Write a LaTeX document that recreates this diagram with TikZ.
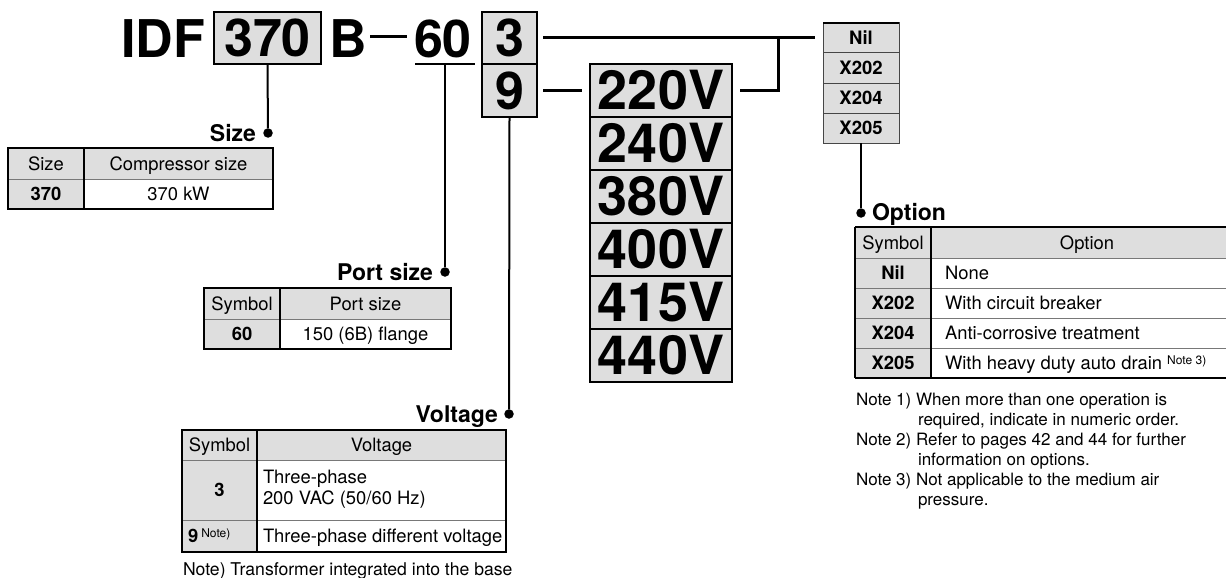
\documentclass[tikz,border=0pt]{standalone}
\usepackage{fontspec}
\setmainfont{TeX Gyre Heros}
\definecolor{bx}{RGB}{222,222,222}
\definecolor{ln}{RGB}{70,70,70}
\definecolor{thin}{RGB}{120,120,120}
\newcommand{\supnote}[1]{{\fontsize{12}{12}\selectfont\raisebox{5pt}{#1}}}
\begin{document}
\begin{tikzpicture}[x=1pt,y=-1pt,
 every node/.style={inner sep=0pt, outer sep=0pt},
 bigtxt/.style={font=\fontsize{52}{52}\selectfont\bfseries},
 codebox/.style={draw, line width=2pt, fill=bx, font=\fontsize{52}{52}\selectfont\bfseries},
 voltbox/.style={draw, line width=2.2pt, fill=bx, minimum width=142pt, minimum height=53pt, font=\fontsize{54}{54}\selectfont\bfseries},
 optbox/.style={draw=ln, line width=1pt, fill=bx, minimum width=76pt, minimum height=30pt, font=\fontsize{18.5}{18.5}\selectfont\bfseries},
 link/.style={line width=3pt},
 lead/.style={line width=2pt},
 dotmark/.style={circle, fill, minimum size=9.5pt},
 head/.style={font=\fontsize{23}{23}\selectfont\bfseries},
 tc/.style={font=\fontsize{18.4}{18.4}\selectfont, text height=13.2pt, text depth=0pt},
 tb/.style={font=\fontsize{18.4}{18.4}\selectfont\bfseries, text height=13.2pt, text depth=0pt},
 notetxt/.style={font=\fontsize{17}{20}\selectfont},
 outer/.style={line width=1.3pt, draw=black},
 topline/.style={line width=2.2pt},
 inner/.style={line width=0.8pt, draw=thin}
]
\useasboundingbox (0,0) rectangle (1226,578);

% ---------- model code ----------
\node[bigtxt, anchor=base west] (idf) at (121,58) {IDF};
\node[codebox, minimum width=107pt, minimum height=52pt] (b370) at (267.5,38) {370};
\node[bigtxt, anchor=base west] (bb) at (329,58) {B};
\coordinate (d1) at (370,37);
\coordinate (d2) at (407,37);
\draw[line width=3pt] (d1) -- (d2);
\node[bigtxt, anchor=base west] (s60) at (414,58) {60};
\coordinate (u1) at (415,64);
\coordinate (u2) at (475,64);
\coordinate (u60) at (445,64);
\draw[lead] (u1) -- (u2);
\node[codebox, minimum width=55pt, minimum height=52pt] (b3) at (509.5,38) {3};
\node[codebox, minimum width=55pt, minimum height=53pt] (b9) at (509.5,90.5) {9};

% voltage boxes
\node[voltbox] (v220) at (661,90.5) {220V};
\node[voltbox] (v240) at (661,143.5) {240V};
\node[voltbox] (v380) at (661,196.5) {380V};
\node[voltbox] (v400) at (661,249.5) {400V};
\node[voltbox] (v415) at (661,302.5) {415V};
\node[voltbox] (v440) at (661,355.5) {440V};

% option boxes
\node[optbox] (ox1) at (861,38) {Nil};
\node[optbox] (ox2) at (861,68) {X202};
\node[optbox] (ox3) at (861,98) {X204};
\node[optbox] (ox4) at (861,128) {X205};
\draw[topline] (ox1.north west) -- (ox1.north east);

% links
\coordinate (j1) at (778,38);
\draw[link] ([xshift=6pt]b3.east) -- ([xshift=-8pt]ox1.west);
\draw[link] ([xshift=6pt]b9.east) -- ([xshift=-8pt]v220.west);
\draw[link] ([xshift=8pt]v220.east) -| (j1);

% ---------- Size ----------
\node[dotmark] (dsize) at (268,133) {};
\draw[lead] (b370.south) -- (dsize);
\node[head, anchor=base east] (hsize) at (256,141) {Size};
\fill[bx] (8,148) rectangle (273,179);
\fill[bx] (8,179) rectangle (84,209);
\draw[inner] (8,179) -- (273,179);
\draw[outer] (84,148) -- (84,209);
\draw[outer] (8,148) rectangle (273,209);
\draw[topline] (8,148) -- (273,148);
\node[tc] (sz1) at (46,163.5) {Size};
\node[tc] (sz2) at (178.5,163.5) {Compressor size};
\node[tb] (sz3) at (46,194) {370};
\node[tc] (sz4) at (178.5,194) {370 kW};

% ---------- Port size ----------
\node[dotmark] (dport) at (445,272) {};
\draw[lead] (u60) -- (dport);
\node[head, anchor=base east] (hport) at (433,280) {Port size};
\fill[bx] (204,288) rectangle (451,319);
\fill[bx] (204,319) rectangle (280,349);
\draw[inner] (204,319) -- (451,319);
\draw[outer] (280,288) -- (280,349);
\draw[outer] (204,288) rectangle (451,349);
\draw[topline] (204,288) -- (451,288);
\node[tc] (ps1) at (242,303.5) {Symbol};
\node[tc] (ps2) at (365.5,303.5) {Port size};
\node[tb] (ps3) at (242,334) {60};
\node[tc] (ps4) at (365.5,334) {150 (6B) flange};

% ---------- Voltage ----------
\node[dotmark] (dvolt) at (509,414) {};
\draw[lead] (b9.south) -- (dvolt);
\node[head, anchor=base east] (hvolt) at (498,422) {Voltage};
\fill[bx] (182,430) rectangle (506,460);
\fill[bx] (182,460) rectangle (257,552);
\draw[inner] (182,460) -- (506,460);
\draw[inner] (182,520) -- (506,520);
\draw[outer] (257,430) -- (257,552);
\draw[outer] (182,430) rectangle (506,552);
\draw[topline] (182,430) -- (506,430);
\node[tc] (vt1) at (219.5,445) {Symbol};
\node[tc] (vt2) at (381.5,445) {Voltage};
\node[tb] (vt3) at (219.5,490) {3};
\node[tc, anchor=west] (vt4) at (263,477) {Three-phase};
\node[tc, anchor=west] (vt5) at (263,498) {200 VAC (50/60 Hz)};
\node[tb, anchor=west] (vt6) at (188,536) {9\,\supnote{\mdseries Note)}};
\node[tc, anchor=west] (vt7) at (263,536) {Three-phase different voltage};
\node[notetxt, anchor=base west] (vnote) at (183,575) {\fontsize{17.6}{20}\selectfont Note) Transformer integrated into the base};

% ---------- Option ----------
\node[dotmark] (dopt) at (861,213) {};
\draw[lead] (ox4.south) -- (dopt);
\node[head, anchor=base west] (hopt) at (872,220) {Option};
\fill[bx] (855,227) rectangle (1226,258);
\fill[bx] (855,258) rectangle (931,378);
\draw[inner] (855,258) -- (1226,258);
\draw[inner] (855,288) -- (1226,288);
\draw[inner] (855,318) -- (1226,318);
\draw[inner] (855,348) -- (1226,348);
\draw[outer] (931,227) -- (931,378);
\draw[outer] (855,227) -- (855,378);
\draw[outer] (855,378) -- (1226,378);
\draw[topline] (855,227) -- (1226,227);
\node[tc] (op1) at (893,242.5) {Symbol};
\node[tc] (op2) at (1087,242.5) {Option};
\node[tb] (op3) at (893,273) {Nil};
\node[tb] (op4) at (893,303) {X202};
\node[tb] (op5) at (893,333) {X204};
\node[tb] (op6) at (893,363) {X205};
\node[tc, anchor=west] (op7) at (945,273) {None};
\node[tc, anchor=west] (op8) at (945,303) {With circuit breaker};
\node[tc, anchor=west] (op9) at (945,333) {Anti-corrosive treatment};
\node[tc, anchor=west] (op10) at (945,363) {With heavy duty auto drain \supnote{Note 3)}};

\node[notetxt, anchor=base west] (n1a) at (856,405) {Note 1) When more than one operation is};
\node[notetxt, anchor=base west] (n1b) at (918,425) {required, indicate in numeric order.};
\node[notetxt, anchor=base west] (n2a) at (856,445) {Note 2) Refer to pages 42 and 44 for further};
\node[notetxt, anchor=base west] (n2b) at (918,465) {information on options.};
\node[notetxt, anchor=base west] (n3a) at (856,485) {Note 3) Not applicable to the medium air};
\node[notetxt, anchor=base west] (n3b) at (918,505) {pressure.};
\end{tikzpicture}
\end{document}
